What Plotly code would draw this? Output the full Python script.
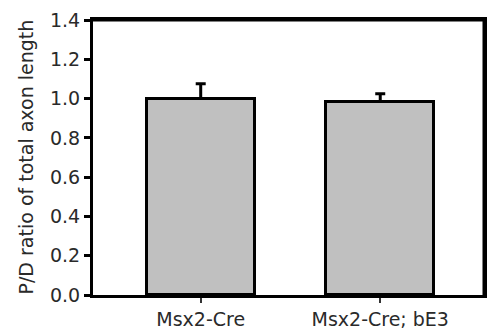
import plotly.graph_objects as go

categories = ["Msx2-Cre", "Msx2-Cre; bE3"]
values = [1.0, 0.985]
errors = [0.075, 0.04]
y_ticks = [0.0, 0.2, 0.4, 0.6, 0.8, 1.0, 1.2, 1.4]

xpos = list(range(len(categories)))
FONT = "DejaVu Sans, Verdana, sans-serif"

fig = go.Figure(go.Bar(
    x=xpos, y=values, width=0.6,
    marker=dict(color="#c0c0c0", line=dict(color="black", width=3)),
    error_y=dict(type="data", array=errors, arrayminus=[0]*len(errors), symmetric=False,
                 color="black", thickness=3, width=5),
))

fig.update_layout(
    width=487, height=336,
    margin=dict(l=93, r=3, t=20, b=41, autoexpand=False),
    plot_bgcolor="white", paper_bgcolor="white",
    showlegend=False,
    font=dict(family=FONT, color="#2a2a2a"),
    bargap=0,
    shapes=[
        dict(type="line", xref="paper", yref="paper", x0=0, x1=1, y0=1, y1=1,
             line=dict(color="black", width=3), layer="above"),
        dict(type="line", xref="paper", yref="paper", x0=1, x1=1, y0=0, y1=1,
             line=dict(color="black", width=3), layer="above"),
    ],
    annotations=[dict(text="P/D ratio of total axon length", xref="paper", yref="paper",
                      x=0, y=0.5, xshift=-68, textangle=-90, showarrow=False,
                      xanchor="center", yanchor="middle", font=dict(size=19, family=FONT, color="#2a2a2a"))],
)
fig.update_xaxes(
    range=[-0.6, 1.578], tickvals=xpos, ticktext=categories,
    showline=True, mirror=True, linecolor="black", linewidth=3,
    ticks="outside", ticklen=5, tickwidth=2, tickcolor="#333",
    tickfont=dict(size=19), showgrid=False, zeroline=False, automargin=False,
)
fig.update_yaxes(
    range=[0, 1.4], tickvals=y_ticks, ticktext=[f"{v:.1f}" for v in y_ticks],
    showline=True, mirror=True, linecolor="black", linewidth=3,
    ticks="outside", ticklen=6, tickwidth=3, tickcolor="black",
    tickfont=dict(size=19), showgrid=False, zeroline=False, automargin=False,
)

fig.write_html("out.html", config={"displayModeBar": False},
               post_script="document.body.style.margin='0';document.body.style.overflow='hidden';")
